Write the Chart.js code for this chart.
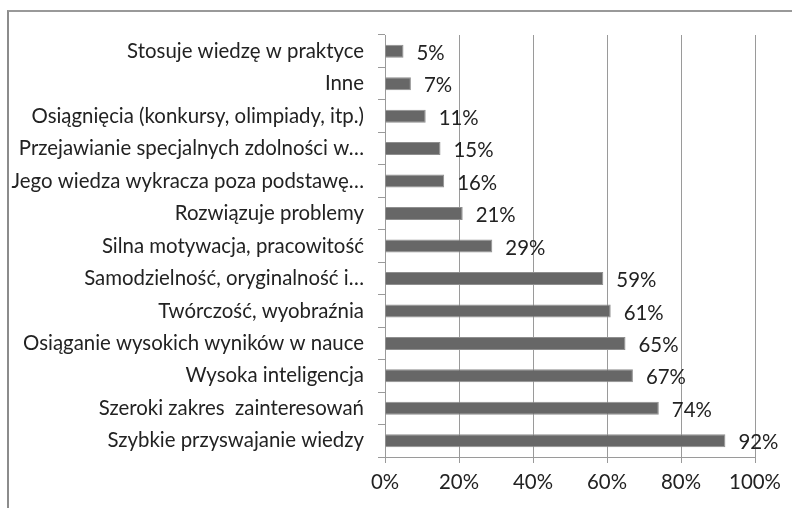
<!DOCTYPE html>
<html>
<head>
<meta charset="utf-8">
<script src="https://cdn.jsdelivr.net/npm/chart.js@4"></script>
<style>
  html, body { margin: 0; padding: 0; background: #fff; }
  #wrap { position: relative; width: 792px; height: 508px; overflow: hidden; }
  #frame { position: absolute; left: 7px; top: 10px; width: 800px; height: 520px;
           border-left: 2px solid #8c8c8c; border-top: 2px solid #999; }
  canvas { position: absolute; left: 0; top: 0; }
</style>
</head>
<body>
<div id="wrap">
  <div id="frame"></div>
  <canvas id="chart" width="792" height="508"></canvas>
</div>
<script>
// categories, top to bottom
const categories = [
    'Stosuje wiedzę w praktyce',
    'Inne',
    'Osiągnięcia (konkursy, olimpiady, itp.)',
    'Przejawianie specjalnych zdolności w…',
    'Jego wiedza wykracza poza podstawę…',
    'Rozwiązuje problemy',
    'Silna motywacja, pracowitość',
    'Samodzielność, oryginalność i…',
    'Twórczość, wyobraźnia',
    'Osiąganie wysokich wyników w nauce',
    'Wysoka inteligencja',
    'Szeroki zakres  zainteresowań',
    'Szybkie przyswajanie wiedzy'
];
// percent of answers
const percents = [5, 7, 11, 15, 16, 21, 29, 59, 61, 65, 67, 74, 92];
const xTicks = [0, 20, 40, 60, 80, 100];

const fontFamily = "Lato, 'Open Sans', sans-serif";
const fontSize = 20.4;
const textColor = '#222';

// values written after each bar
const barValues = {
    id: 'barValues',
    afterDatasetsDraw(chart) {
        const ctx = chart.ctx;
        const meta = chart.getDatasetMeta(0);
        ctx.save();
        ctx.font = fontSize + 'px ' + fontFamily;
        ctx.fillStyle = textColor;
        ctx.textAlign = 'left';
        ctx.textBaseline = 'middle';
        meta.data.forEach((bar, i) => {
            ctx.fillText(percents[i] + '%', bar.x + 13, bar.y + 2);
        });
        ctx.restore();
    }
};

const ctx = document.getElementById('chart').getContext('2d');
new Chart(ctx, {
    type: 'bar',
    data: {
        labels: categories,
        datasets: [{
            data: percents,
            backgroundColor: '#676767',
            borderColor: '#8f8f8f',
            borderWidth: 1,
            categoryPercentage: 0.8,
            barPercentage: 0.5
        }]
    },
    options: {
        indexAxis: 'y',
        responsive: false,
        animation: false,
        layout: { padding: { top: 35, right: 37, left: 0, bottom: 0 } },
        plugins: {
            legend: { display: false },
            tooltip: { enabled: false }
        },
        scales: {
            x: {
                min: 0,
                max: 100,
                afterBuildTicks: (scale) => { scale.ticks = xTicks.map(v => ({ value: v })); },
                afterFit: (scale) => { scale.height = 51; },
                border: { color: '#9a9a9a', width: 1 },
                grid: { color: '#9a9a9a', lineWidth: 1, tickLength: 6, drawTicks: true },
                ticks: {
                    color: textColor,
                    padding: 7,
                    font: { family: fontFamily, size: fontSize },
                    callback: (v) => v + '%'
                }
            },
            y: {
                afterFit: (scale) => { scale.width = 385; },
                border: { color: '#9a9a9a', width: 1 },
                grid: { display: true, drawOnChartArea: false, offset: true, tickLength: 7, color: '#9a9a9a' },
                ticks: {
                    color: textColor,
                    padding: 14,
                    autoSkip: false,
                    font: { family: fontFamily, size: fontSize }
                }
            }
        }
    },
    plugins: [barValues]
});
</script>
</body>
</html>
